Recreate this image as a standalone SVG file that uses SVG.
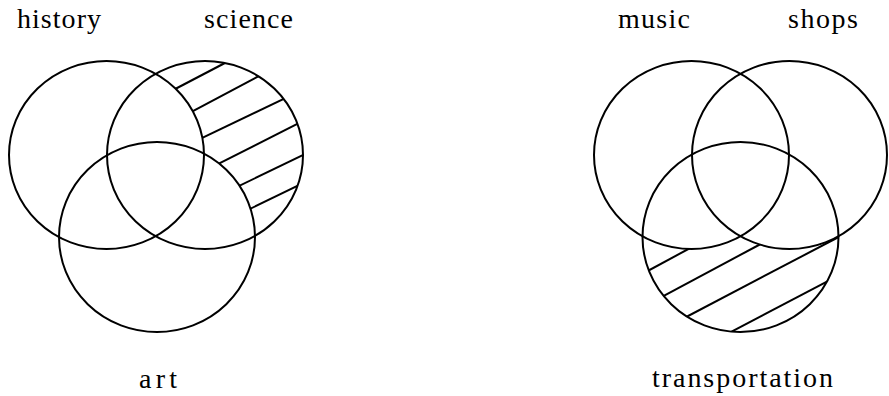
<svg xmlns="http://www.w3.org/2000/svg" width="889" height="396" viewBox="0 0 889 396">
<style>
.c{fill:none;stroke:#000;stroke-width:2}
.h{stroke:#000;stroke-width:2;stroke-linecap:butt}
.t{font-family:"Liberation Serif","DejaVu Serif",serif;font-size:28px;fill:#000;text-anchor:middle}
</style>
<defs>
<mask id="mL" maskUnits="userSpaceOnUse" x="0" y="0" width="889" height="396">
<ellipse cx="205" cy="155" rx="98" ry="94" fill="#fff"/>
<ellipse cx="106.5" cy="155" rx="97.5" ry="94" fill="#000"/>
<ellipse cx="157" cy="237" rx="98" ry="95" fill="#000"/>
</mask>
<mask id="mR" maskUnits="userSpaceOnUse" x="0" y="0" width="889" height="396">
<ellipse cx="740.5" cy="237" rx="98" ry="95" fill="#fff"/>
<ellipse cx="691.5" cy="155" rx="97.5" ry="94" fill="#000"/>
<ellipse cx="789.5" cy="155" rx="97.5" ry="94" fill="#000"/>
</mask>
</defs>
<g id="hatch-left" mask="url(#mL)">
<line class="h" x1="157" y1="98.5" x2="245" y2="52.5"/>
<line class="h" x1="175" y1="120.7" x2="287" y2="61.2"/>
<line class="h" x1="184" y1="146.7" x2="314" y2="84.3"/>
<line class="h" x1="200" y1="173.1" x2="317" y2="113.9"/>
<line class="h" x1="221" y1="194.7" x2="323" y2="145.3"/>
<line class="h" x1="232" y1="217.7" x2="317" y2="176.3"/>
</g>
<g id="hatch-right" mask="url(#mR)">
<line class="h" x1="631" y1="280" x2="706" y2="239.5"/>
<line class="h" x1="646" y1="305.3" x2="777" y2="235.3"/>
<line class="h" x1="670" y1="325.5" x2="853" y2="229.5"/>
<line class="h" x1="713" y1="341.4" x2="846" y2="271.7"/>
</g>
<g id="connectors"></g>
<g id="history"><ellipse class="c" cx="106.5" cy="155" rx="97.5" ry="94"/><text class="t" x="59" y="28" textLength="84" lengthAdjust="spacing">history</text></g>
<g id="science"><ellipse class="c" cx="205" cy="155" rx="98" ry="94"/><text class="t" x="248.5" y="28" textLength="89" lengthAdjust="spacing">science</text></g>
<g id="art"><ellipse class="c" cx="157" cy="237" rx="98" ry="95"/><text class="t" x="158" y="388" textLength="38" lengthAdjust="spacing">art</text></g>
<g id="music"><ellipse class="c" cx="691.5" cy="155" rx="97.5" ry="94"/><text class="t" x="654" y="28" textLength="72" lengthAdjust="spacing">music</text></g>
<g id="shops"><ellipse class="c" cx="789.5" cy="155" rx="97.5" ry="94"/><text class="t" x="823" y="28" textLength="70" lengthAdjust="spacing">shops</text></g>
<g id="transportation"><ellipse class="c" cx="740.5" cy="237" rx="98" ry="95"/><text class="t" x="742.5" y="387" textLength="181" lengthAdjust="spacing">transportation</text></g>
</svg>
